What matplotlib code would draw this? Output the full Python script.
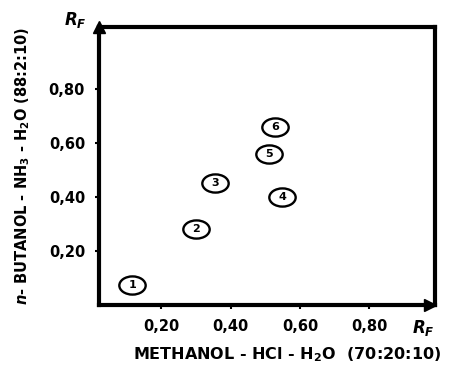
import matplotlib
matplotlib.use('Agg')
import matplotlib.pyplot as plt
from matplotlib.path import Path

# Rf values
spots = ['1', '2', '3', '4', '5', '6']
rf_methanol = [0.116, 0.30, 0.354, 0.548, 0.51, 0.527]
rf_butanol = [0.074, 0.28, 0.45, 0.40, 0.56, 0.66]
ticks = [0.20, 0.40, 0.60, 0.80]
tick_labels = ['0,20', '0,40', '0,60', '0,80']

plt.rcParams['font.family'] = 'DejaVu Sans'
plt.rcParams['font.weight'] = 'bold'
plt.rcParams['mathtext.default'] = 'regular'

fig = plt.figure(figsize=(4.5, 3.75), dpi=100)
ax = fig.add_axes([0.22, 0.187, 0.747, 0.741])

# elliptical outline marker
oval = Path.unit_circle().transformed(matplotlib.transforms.Affine2D().scale(1.45, 1.0))
ax.scatter(rf_methanol, rf_butanol, marker=oval, s=360, facecolors='white',
           edgecolors='black', linewidths=1.7, zorder=3)
for s, x, y in zip(spots, rf_methanol, rf_butanol):
    ax.text(x, y, s, ha='center', va='center', fontsize=8, fontweight='bold', zorder=4)

ax.set_xlim(0.02, 0.99)
ax.set_ylim(0, 1.03)
ax.set_xticks(ticks)
ax.set_xticklabels(tick_labels)
ax.set_yticks(ticks)
ax.set_yticklabels(tick_labels)
ax.tick_params(direction='out', length=3, width=1.5, labelsize=10.5, pad=7)

for sp in ax.spines.values():
    sp.set_linewidth(3)

# arrow heads on the axes
ax.plot([0], [1], marker='^', markersize=9, color='black', transform=ax.transAxes, clip_on=False)
ax.plot([0.985], [0], marker='>', markersize=9, color='black', transform=ax.transAxes, clip_on=False)

ax.text(-0.07, 1.025, r'$\mathit{R_F}$', transform=ax.transAxes, fontsize=12,
        ha='center', va='center')
ax.text(0.964, -0.083, r'$\mathit{R_F}$', transform=ax.transAxes, fontsize=12,
        ha='center', va='center')

ax.set_xlabel('METHANOL - HCl - H$_2$O  (70:20:10)', fontsize=11.5, fontweight='bold')
ax.xaxis.set_label_coords(0.56, -0.145)
ax.set_ylabel(r'$\mathit{n}$- BUTANOL - NH$_3$ - H$_2$O (88:2:10)', fontsize=10.5,
              fontweight='bold')
ax.yaxis.set_label_coords(-0.2, 0.5)

fig.savefig('out.png', dpi=100)
